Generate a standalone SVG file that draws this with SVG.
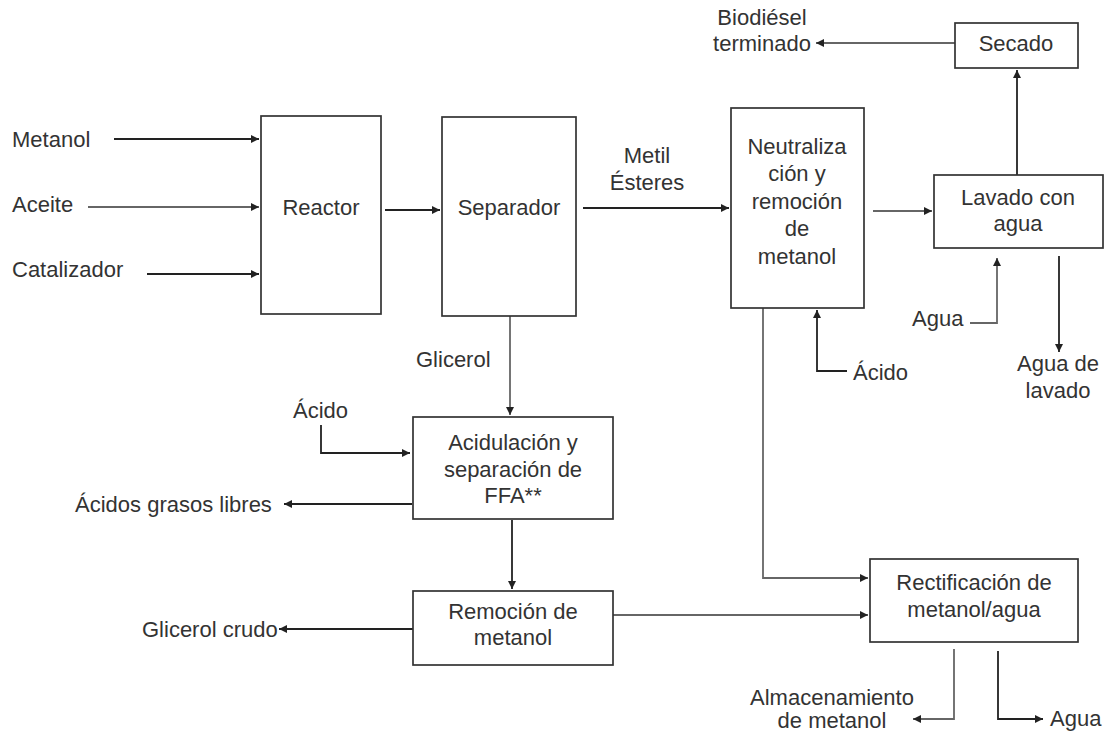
<svg xmlns="http://www.w3.org/2000/svg" width="1109" height="732" viewBox="0 0 1109 732">
<style>
text{font-family:"Liberation Sans",Arial,sans-serif;font-size:22px;fill:#333}
.c{text-anchor:middle}
.box{fill:#fff;stroke:#333;stroke-width:1.7}
.ln{fill:none;stroke:#222;stroke-width:1.8;marker-end:url(#ah)}
.lg{fill:none;stroke:#666;stroke-width:1.8;marker-end:url(#ah)}
</style>
<defs>
<marker id="ah" viewBox="0 0 10 10" refX="10" refY="5" markerWidth="10" markerHeight="8" markerUnits="userSpaceOnUse" orient="auto">
<path d="M0,0 L10,5 L0,10 z" fill="#222"/>
</marker>
</defs>
<rect width="1109" height="732" fill="#fff"/>
<g id="connectors">
<line class="ln" x1="114" y1="139" x2="259" y2="139"/>
<line class="lg" x1="88" y1="207" x2="259" y2="207"/>
<line class="ln" x1="147" y1="274" x2="259" y2="274"/>
<line class="ln" x1="385" y1="210" x2="440" y2="210"/>
<line class="ln" x1="583" y1="208" x2="729" y2="208"/>
<line class="lg" x1="873" y1="211" x2="932" y2="211"/>
<line class="ln" x1="1017" y1="175" x2="1017" y2="70"/>
<line class="lg" x1="955" y1="43" x2="816" y2="43"/>
<polyline class="lg" points="970,323 997,323 997,258"/>
<line class="ln" x1="1059" y1="256" x2="1059" y2="352"/>
<polyline class="ln" points="847,371 817,371 817,310"/>
<line class="lg" x1="510" y1="316" x2="510" y2="415"/>
<polyline class="ln" points="321,425 321,453 410,453"/>
<line class="ln" x1="412" y1="504" x2="284" y2="504"/>
<line class="ln" x1="512" y1="520" x2="512" y2="589"/>
<line class="ln" x1="413" y1="629" x2="279" y2="629"/>
<line class="lg" x1="613" y1="615" x2="868" y2="615"/>
<polyline class="lg" points="763,308 763,578 868,578"/>
<polyline class="lg" points="954,649 954,719 913,719"/>
<polyline class="ln" points="998,651 998,719 1043,719"/>
</g>
<g id="reactor"><rect class="box" x="261" y="116" width="120" height="198"/><text class="c" x="321" y="215">Reactor</text></g>
<g id="separador"><rect class="box" x="442" y="117" width="134" height="199"/><text class="c" x="509" y="215">Separador</text></g>
<g id="neutralizacion"><rect class="box" x="731" y="108" width="133" height="200"/>
<text class="c" x="797" y="154">Neutraliza</text><text class="c" x="797" y="181">ción y</text><text class="c" x="797" y="209">remoción</text><text class="c" x="797" y="236">de</text><text class="c" x="797" y="264">metanol</text></g>
<g id="secado"><rect class="box" x="955" y="23" width="123" height="45"/><text class="c" x="1016" y="51">Secado</text></g>
<g id="lavado"><rect class="box" x="934" y="175" width="169" height="73"/><text class="c" x="1018" y="205">Lavado con</text><text class="c" x="1018" y="231">agua</text></g>
<g id="acidulacion"><rect class="box" x="413" y="417" width="200" height="102"/><text class="c" x="513" y="450">Acidulación y</text><text class="c" x="513" y="477">separación de</text><text class="c" x="513" y="503">FFA**</text></g>
<g id="remocion"><rect class="box" x="413" y="591" width="200" height="74"/><text class="c" x="513" y="619">Remoción de</text><text class="c" x="513" y="645">metanol</text></g>
<g id="rectificacion"><rect class="box" x="870" y="559" width="208" height="83"/><text class="c" x="974" y="590">Rectificación de</text><text class="c" x="974" y="617">metanol/agua</text></g>
<g id="labels">
<text x="12" y="147">Metanol</text>
<text x="12" y="212">Aceite</text>
<text x="12" y="277">Catalizador</text>
<text class="c" x="647" y="163">Metil</text>
<text class="c" x="647" y="190">Ésteres</text>
<text class="c" x="762" y="25">Biodiésel</text>
<text class="c" x="762" y="51">terminado</text>
<text x="912" y="326">Agua</text>
<text x="853" y="380">Ácido</text>
<text class="c" x="1058" y="371">Agua de</text>
<text class="c" x="1058" y="398">lavado</text>
<text x="416" y="367">Glicerol</text>
<text x="293" y="418">Ácido</text>
<text x="75" y="512">Ácidos grasos libres</text>
<text x="142" y="637">Glicerol crudo</text>
<text class="c" x="832" y="705">Almacenamiento</text>
<text class="c" x="832" y="728">de metanol</text>
<text x="1050" y="726">Agua</text>
</g>
</svg>
